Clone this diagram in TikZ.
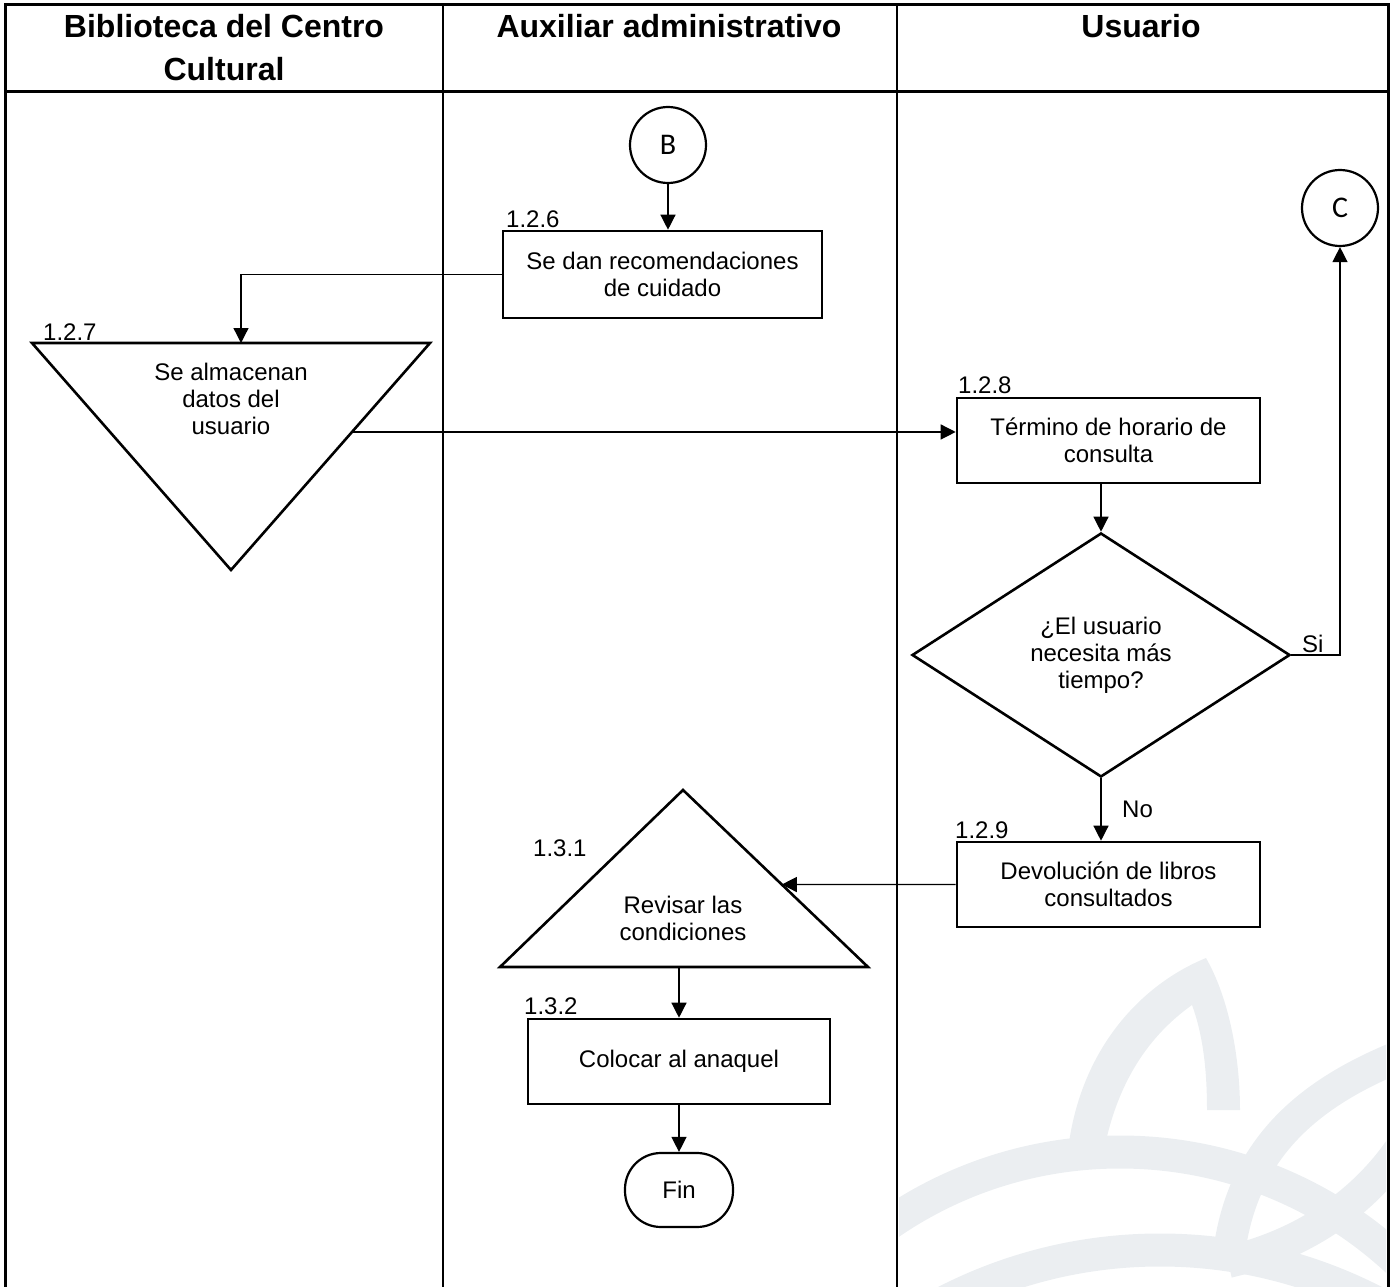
\documentclass[tikz,border=0pt]{standalone}
\usepackage{fontspec}
\setmainfont{Liberation Sans}
\newfontfamily\calib{Carlito}
\usetikzlibrary{arrows.meta,shapes.geometric,calc}
\definecolor{wm}{RGB}{235,238,241}
\newcommand\bodyfont{\fontsize{24}{27}\selectfont}
\tikzset{
  frame/.style={line width=3pt},
  lane/.style={line width=2.4pt},
  shp/.style={draw, line width=2.6pt, line join=miter},
  box/.style={draw, line width=2.6pt, align=center, inner sep=0pt, font=\bodyfont},
  circ/.style={circle, draw, line width=2.2pt, minimum size=76pt, inner sep=0pt, font=\calib\fontsize{30}{34}\selectfont},
  dia/.style={diamond, draw, line width=2.6pt, minimum width=378pt, minimum height=244pt, inner sep=0pt, align=center, font=\bodyfont},
  term/.style={draw, line width=2.2pt, rounded corners=36pt, minimum width=108pt, minimum height=74pt, inner sep=0pt, font=\bodyfont},
  conn/.style={line width=1.3pt, -{Triangle[length=15pt,width=15pt]}},
  lbl/.style={anchor=base west, inner sep=0pt, font=\bodyfont},
  txt/.style={anchor=north, inner sep=0pt, align=center, font=\bodyfont},
  hdr/.style={anchor=north, inner sep=0pt, align=center, font=\fontsize{32}{43}\selectfont\bfseries},
  wmark/.style={draw=wm, line width=33pt}
}
\begin{document}
\begin{tikzpicture}[x=1pt,y=-1pt]
\useasboundingbox (0,0) rectangle (1393,1287);
% watermark
\begin{scope}
  \clip (899,94) rectangle (1386,1287);
  \draw[wmark] (1120,1560) circle (408pt);
  \draw[wmark] (1160,1720) circle (470pt);
  \fill[wm] (1068,1150) .. controls (1080,1050) and (1140,985) .. (1206,958)
     .. controls (1230,1000) and (1240,1060) .. (1240,1110) -- (1207,1110)
     .. controls (1207,1070) and (1203,1035) .. (1192,1005)
     .. controls (1150,1035) and (1118,1080) .. (1104,1150) -- cycle;
  \draw[wm, line width=32pt] (1228,1262) .. controls (1240,1140) and (1320,1080) .. (1445,1040)
     .. controls (1425,1150) and (1345,1235) .. (1228,1262);
\end{scope}
% frame and lanes
\draw[frame] (5,1292) -- (5,5) -- (1388,5) -- (1388,1292);
\draw[frame] (5,92) -- (1388,92);
\draw[lane] (443,5) -- (443,1292);
\draw[lane] (897,5) -- (897,1292);
% headers
\node[hdr] (h1) at (224,14) {Biblioteca del Centro\\Cultural};
\node[hdr] (h2) at (669,14) {Auxiliar administrativo};
\node[hdr] (h3) at (1141,14) {Usuario};
% nodes
\node[circ] (B) at (668,145) {B};
\node[circ] (C) at (1340,208) {C};
\node[box, minimum width=319pt, minimum height=87pt] (p126) at (662.5,274.5) {Se dan recomendaciones\\de cuidado};
\node[lbl] (n126) at (506,227) {1.2.6};
% triangle 1.2.7
\coordinate (t7a) at (32,343);
\coordinate (t7b) at (430,343);
\coordinate (t7c) at (231,570);
\draw[shp] (t7a) -- (t7b) -- (t7c) -- cycle;
\node[txt] (t7) at (231,363) {Se almacenan\\datos del\\usuario};
\node[lbl] (n127) at (43,340) {1.2.7};
\coordinate (t7top) at (241,343);
\coordinate (t7out) at ($(t7b)!0.392!(t7c)$);
% 1.2.8
\node[box, minimum width=303pt, minimum height=85pt] (p128) at (1108.5,440.5) {Término de horario de\\consulta};
\node[lbl] (n128) at (958,393) {1.2.8};
% decision
\node[dia] (D) at (1101,655) {¿El usuario\\necesita más\\tiempo?};
\node[lbl] (si) at (1302,652) {Si};
\node[lbl] (no) at (1122,817) {No};
% 1.2.9
\node[box, minimum width=303pt, minimum height=85pt] (p129) at (1108.5,884.5) {Devolución de libros\\consultados};
\node[lbl] (n129) at (955,838) {1.2.9};
% triangle 1.3.1
\coordinate (t31a) at (683,790);
\coordinate (t31b) at (500,967);
\coordinate (t31c) at (868,967);
\draw[shp] (t31a) -- (t31b) -- (t31c) -- cycle;
\node[txt] (t31) at (683,896) {Revisar las\\condiciones};
\node[lbl] (n131) at (533,856) {1.3.1};
\coordinate (t31in) at ($(t31a)!0.534!(t31c)$);
% 1.3.2
\node[box, minimum width=302pt, minimum height=85pt] (p132) at (679,1061.5) {Colocar al anaquel};
\node[lbl] (n132) at (524,1014) {1.3.2};
\node[term] (fin) at (679,1190) {Fin};
% connectors
\draw[conn] (B.south) -- (B.south |- p126.north);
\draw[conn] (p126.west) -| (t7top);
\draw[conn] (t7out) -- (t7out -| p128.west);
\draw[conn] (D.north |- p128.south) -- (D.north);
\draw[conn] (D.east) -| (C.south);
\draw[conn] (D.south) -- (D.south |- p129.north);
\draw[conn] (p129.west) -- (t31in);
\draw[conn] (p132.north |- t31b) -- (p132.north);
\draw[conn] (p132.south) -- (fin.north);
\end{tikzpicture}
\end{document}
